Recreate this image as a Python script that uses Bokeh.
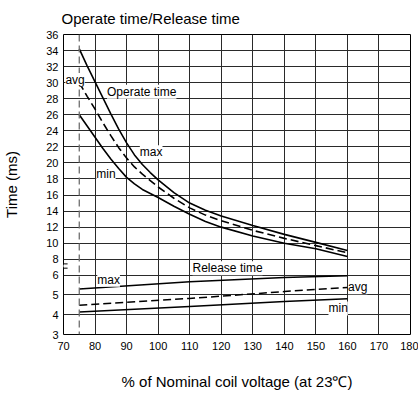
from bokeh.plotting import figure
from bokeh.models import FixedTicker, Label, Span, Arrow, CustomJSTickFormatter
from bokeh.embed import file_html
from bokeh.resources import INLINE

# ---- data ----
voltage = [75, 77.5, 80, 82.5, 85, 87.5, 90, 92.5, 95, 97.5, 100, 105, 110, 115, 120, 130, 140, 150, 160]
operate_max = [34.2, 32.1, 30.1, 28.1, 26.1, 24.2, 22.5, 21.0, 19.8, 18.8, 17.9, 16.3, 15.0, 14.1, 13.4, 12.2, 11.1, 10.1, 9.1]
operate_avg = [30.0, 28.3, 26.7, 25.0, 23.4, 21.9, 20.6, 19.5, 18.6, 17.8, 17.0, 15.6, 14.4, 13.5, 12.8, 11.6, 10.6, 9.7, 8.8]
operate_min = [26.0, 24.6, 23.2, 21.8, 20.5, 19.3, 18.2, 17.4, 16.7, 16.2, 15.7, 14.6, 13.6, 12.7, 12.0, 10.9, 10.0, 9.3, 8.35]

release_voltage = [75, 110, 140, 160]
release_max = [5.3, 5.66, 5.88, 5.97]
release_avg = [4.48, 4.82, 5.17, 5.37]
release_min = [4.13, 4.42, 4.67, 4.8]

x_ticks = [70, 80, 90, 100, 110, 120, 130, 140, 150, 160, 170, 180]
y_ticks_lower = [3, 4, 5, 6]
y_ticks_upper = [8, 10, 12, 14, 16, 18, 20, 22, 24, 26, 28, 30, 32, 34, 36]
threshold_voltage = 75

# ---- broken y axis: lower part 3..6 (20 px/unit), upper part 8..36 ----
LOW_SCALE = 20.0
UP_OFFSET = 76.0
UP_SCALE = 227.0 / 28.0


def ybrk(v):
    if v < 7:
        return (v - 3) * LOW_SCALE
    return UP_OFFSET + (v - 8) * UP_SCALE


FONT = "Liberation Sans"

p = figure(width=418, height=392, x_range=(70, 180), y_range=(0, ybrk(36)),
           output_backend="svg", toolbar_location=None,
           min_border_left=59, min_border_right=8, min_border_top=32, min_border_bottom=57)

p.background_fill_color = "white"
p.border_fill_color = "white"
p.outline_line_color = "black"
p.outline_line_width = 1

# title
p.title.text = "Operate time/Release time"
p.title.text_font = FONT
p.title.text_font_size = "15px"
p.title.text_font_style = "normal"
p.title.text_color = "black"
p.title.align = "left"
p.title.offset = -2
p.title.standoff = 15

# axes
y_positions = [ybrk(v) for v in y_ticks_lower + y_ticks_upper]
p.xaxis.ticker = FixedTicker(ticks=x_ticks)
p.yaxis.ticker = FixedTicker(ticks=y_positions)
p.yaxis.formatter = CustomJSTickFormatter(code="""
    if (tick < 68) { return String(Math.round(tick / %f + 3)); }
    return String(Math.round((tick - %f) / %f + 8));
""" % (LOW_SCALE, UP_OFFSET, UP_SCALE))

for ax in (p.xaxis[0], p.yaxis[0]):
    ax.axis_line_color = None
    ax.major_tick_line_color = None
    ax.minor_tick_line_color = None
    ax.major_tick_out = 0
    ax.major_tick_in = 0
    ax.major_label_text_font = FONT
    ax.major_label_text_font_size = "11px"
    ax.major_label_text_color = "black"
    ax.axis_label_text_font = FONT
    ax.axis_label_text_font_size = "15px"
    ax.axis_label_text_font_style = "normal"
    ax.axis_label_text_color = "black"

p.xaxis.axis_label = "% of Nominal coil voltage (at 23\u2103)"
p.xaxis.major_label_standoff = 7
p.xaxis.axis_label_standoff = 20
p.yaxis.axis_label = "Time (ms)"
p.yaxis.major_label_standoff = 5
p.yaxis.axis_label_standoff = 23

# grid
p.xgrid.ticker = FixedTicker(ticks=x_ticks)
p.ygrid.ticker = FixedTicker(ticks=y_positions)
for g in (p.xgrid[0], p.ygrid[0]):
    g.grid_line_color = "#2a2a2a"
    g.grid_line_width = 1
    g.grid_line_alpha = 1

# threshold dashed line
p.add_layout(Span(location=threshold_voltage, dimension="height", line_color="#6e6e6e",
                  line_width=1.3, line_dash="7 4"))

# operate time curves
p.line(voltage, [ybrk(v) for v in operate_max], line_color="black", line_width=1.6)
p.line(voltage, [ybrk(v) for v in operate_avg], line_color="black", line_width=1.6, line_dash="8 4")
p.line(voltage, [ybrk(v) for v in operate_min], line_color="black", line_width=1.6)

# release time lines
p.line(release_voltage, [ybrk(v) for v in release_max], line_color="black", line_width=1.5)
p.line(release_voltage, [ybrk(v) for v in release_avg], line_color="black", line_width=1.5, line_dash="8 4")
p.line(release_voltage, [ybrk(v) for v in release_min], line_color="black", line_width=1.5)

# annotations
def add_label(text, x, yv_disp):
    p.add_layout(Label(x=x, y=yv_disp, text=text, text_font=FONT, text_font_size="12px",
                       text_color="black", text_baseline="middle", text_align="left",
                       background_fill_color="white", background_fill_alpha=1))

add_label("avg", 70.6, 257)
add_label("Operate time", 83.8, 245.3)
add_label("max", 94.2, 184)
add_label("min", 80.4, 162.5)
add_label("max", 80.7, 55.3)
add_label("Release time", 110.9, 67)
add_label("avg", 160.2, 47.8)
add_label("min", 154.0, 26.3)

# axis break marks
for yb in (67.0, 71.3):
    p.add_layout(Arrow(end=None, x_start=68.8, y_start=yb, x_end=71.3, y_end=yb,
                       line_color="black", line_width=1))
p.add_layout(Arrow(end=None, x_start=70, y_start=67.8, x_end=70, y_end=70.5,
                   line_color="white", line_width=2))

open("out.html", "w").write(file_html(p, INLINE))
